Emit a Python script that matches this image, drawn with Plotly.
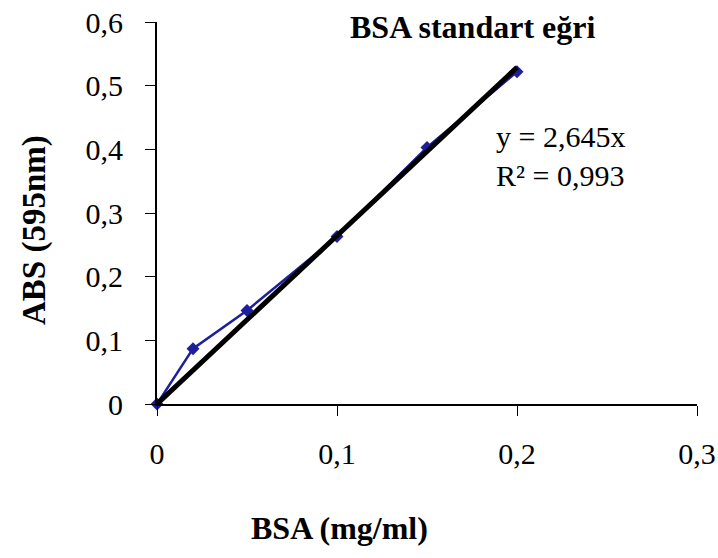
import plotly.graph_objects as go

# Data
bsa = [0, 0.02, 0.05, 0.1, 0.15, 0.2]
absorbance = [0, 0.087, 0.147, 0.263, 0.403, 0.522]
slope = 2.645
trend_x = [0, 0.2]
trend_y = [slope * v for v in trend_x]

x_ticks = [0, 0.1, 0.2, 0.3]
x_labels = ["0", "0,1", "0,2", "0,3"]
y_ticks = [0, 0.1, 0.2, 0.3, 0.4, 0.5, 0.6]
y_labels = ["0", "0,1", "0,2", "0,3", "0,4", "0,5", "0,6"]

font_family = "Liberation Serif, Times New Roman, serif"

W, H = 718, 558
L, R, T, B = 157, 21, 22, 154
PW = W - L - R
PH = H - T - B

def px(xp):
    return (xp - L) / PW

def py(yp):
    return (H - B - yp) / PH

fig = go.Figure()
fig.add_trace(go.Scatter(
    x=bsa, y=absorbance, mode="lines+markers",
    line=dict(color="#1f1f9e", width=2.5),
    marker=dict(symbol="diamond", size=10, color="#1f1f9e"),
    showlegend=False, cliponaxis=False,
))
fig.add_trace(go.Scatter(
    x=trend_x, y=trend_y, mode="lines",
    line=dict(color="black", width=5),
    showlegend=False, cliponaxis=False,
))

fig.update_layout(
    width=W, height=H,
    margin=dict(l=L, r=R, t=T, b=B),
    paper_bgcolor="white", plot_bgcolor="white",
    font=dict(family=font_family, size=30, color="black"),
    xaxis=dict(
        range=[0, 0.3], tickvals=x_ticks, ticktext=x_labels,
        automargin=False, ticklabeloverflow="allow",
        showgrid=False, zeroline=False,
        showline=True, linecolor="black", linewidth=2,
        ticks="outside", ticklen=10, tickcolor="black", tickwidth=1,
        ticklabelstandoff=12,
        tickfont=dict(size=30, family=font_family, color="black"),
    ),
    yaxis=dict(
        range=[0, 0.6002], tickvals=y_ticks, ticktext=y_labels,
        automargin=False, ticklabeloverflow="allow",
        showgrid=False, zeroline=False,
        showline=True, linecolor="black", linewidth=2,
        ticks="outside", ticklen=10, tickcolor="black", tickwidth=1,
        ticklabelstandoff=16,
        tickfont=dict(size=30, family=font_family, color="black"),
    ),
    annotations=[
        dict(text="<b>BSA standart eğri</b>", xref="paper", yref="paper",
             x=px(472), y=py(27), xanchor="center", yanchor="middle",
             showarrow=False, font=dict(size=32, family=font_family)),
        dict(text="y = 2,645x<br>R² = 0,993", xref="paper", yref="paper",
             x=px(494), y=py(156), xanchor="left", yanchor="middle",
             align="left", showarrow=False, font=dict(size=30, family=font_family)),
        dict(text="<b>BSA (mg/ml)</b>", xref="paper", yref="paper",
             x=px(339), y=py(528), xanchor="center", yanchor="middle",
             showarrow=False, font=dict(size=32, family=font_family)),
        dict(text="<b>ABS (595nm)</b>", xref="paper", yref="paper",
             x=px(34), y=py(230), xanchor="center", yanchor="middle",
             textangle=-90, showarrow=False, font=dict(size=33, family=font_family)),
    ],
)

fig.write_html(
    "out.html",
    config={"displayModeBar": False},
    post_script="document.body.style.margin='0';document.body.style.overflow='hidden';",
)
